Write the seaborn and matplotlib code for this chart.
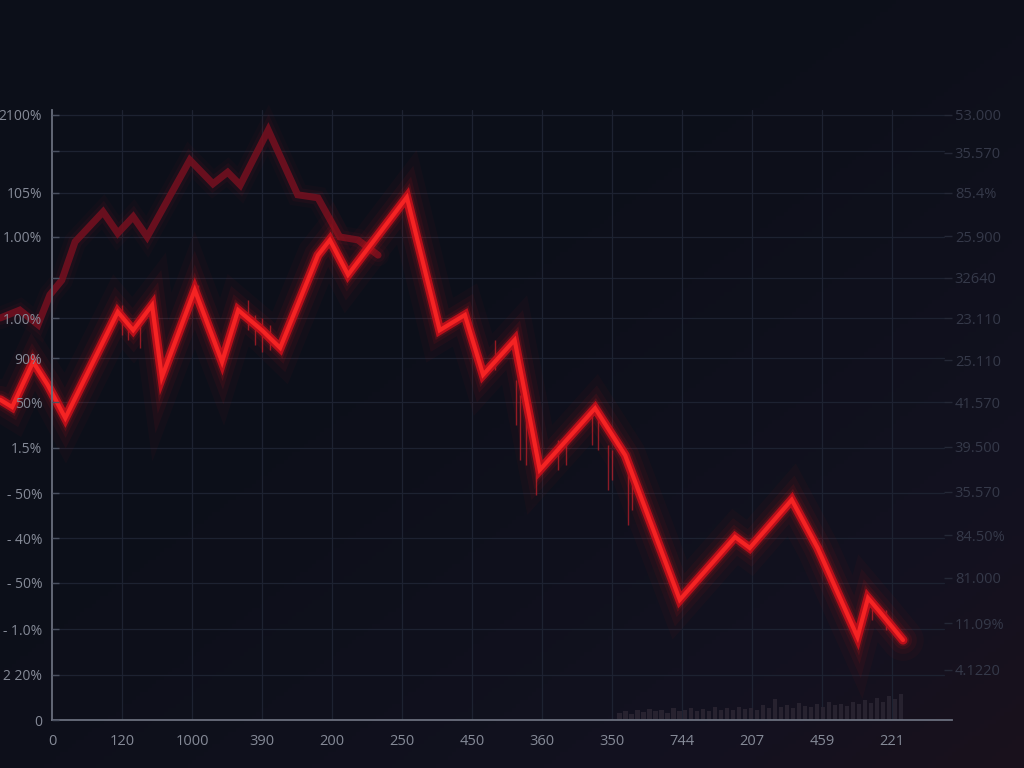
import numpy as np
import pandas as pd
import matplotlib
matplotlib.use("Agg")
import matplotlib.pyplot as plt
from matplotlib.colors import LinearSegmentedColormap
import seaborn as sns

# ---------------- data ----------------
x_labels = ["0", "120", "1000", "390", "200", "250", "450", "360", "350", "744", "207", "459", "221"]

left_tick_vals = [0, 7.4, 14.9, 22.5, 29.8, 37.2, 44.6, 52.1, 59.3, 65.9, 72.5, 79.2, 86.4, 93.3, 99.2]
left_tick_labels = ["0", "2 20%", "- 1.0%", "- 50%", "- 40%", "- 50%", "1.5%", "50%", "90%",
                    "1.00%", "", "1.00%", "105%", "", "2100%"]

right_tick_vals = [99.2, 93.0, 86.4, 79.3, 72.5, 65.9, 59.0, 52.1, 44.8, 37.4, 30.3, 23.3, 15.9, 8.2]
right_tick_labels = ["53.000", "35.570", "85.4%", "25.900", "32640", "23.110", "25.110", "41.570",
                     "39.500", "35.570", "84.50%", "81.000", "11.09%", "4.1220"]

# main (bright) series
main_x = [-0.74, -0.57, -0.27, -0.06, 0.19, 0.94, 1.16, 1.43, 1.57, 2.04, 2.43, 2.66, 3.0, 3.26,
          3.80, 3.97, 4.23, 5.07, 5.54, 5.90, 6.16, 6.61, 6.97, 7.76, 8.19, 8.97, 9.76, 9.97,
          10.57, 10.94, 11.51, 11.66, 11.83, 12.16]
main_y = [52.5, 51.3, 58.7, 54.9, 49.5, 66.9, 63.9, 68.0, 56.2, 70.5, 58.7, 67.2, 63.9, 61.0,
          76.2, 78.7, 73.0, 85.7, 63.9, 66.4, 56.6, 62.3, 41.0, 51.1, 43.4, 19.7, 30.0, 28.2,
          36.1, 28.2, 13.6, 20.0, 17.7, 13.1]

# faded background series
ghost_x = [-0.74, -0.46, -0.20, -0.03, 0.14, 0.33, 0.73, 0.94, 1.16, 1.36, 1.97, 2.30, 2.51,
           2.69, 3.09, 3.51, 3.80, 4.11, 4.37, 4.66]
ghost_y = [65.9, 67.2, 64.8, 69.7, 72.1, 78.4, 83.3, 79.8, 82.5, 79.2, 91.8, 87.9, 89.8,
           87.7, 96.7, 86.1, 85.6, 79.2, 78.7, 76.2]

# thin wicks
wick_x = [1.0, 1.086, 1.257, 2.086, 2.8, 2.9, 3.0, 3.114, 6.33, 6.63, 6.69, 6.77, 6.91, 7.23,
          7.34, 7.71, 7.8, 7.94, 8.0, 8.23, 8.29, 11.6, 11.71, 11.91]
wick_lo = [63.1, 62.3, 61.0, 68.9, 63.9, 61.5, 60.3, 60.7, 57.4, 48.4, 42.6, 41.8, 36.9, 41.0,
           41.8, 45.1, 44.3, 37.7, 39.3, 32.0, 34.4, 15.6, 16.4, 14.8]
wick_hi = [68.0, 65.9, 65.2, 71.3, 68.9, 66.4, 65.9, 64.8, 62.3, 55.7, 53.3, 49.2, 43.4, 45.9,
           45.1, 51.1, 49.2, 45.1, 44.3, 41.8, 41.0, 20.0, 19.7, 18.0]

# faint volume bars at the bottom
volume = [1.2, 1.5, 1.0, 1.6, 1.3, 1.8, 1.4, 1.7, 1.2, 1.9, 1.5, 1.6, 2.0, 1.4, 1.8, 1.5,
          2.1, 1.7, 1.9, 1.6, 2.2, 1.8, 2.0, 1.7, 2.4, 2.0, 3.4, 2.2, 2.5, 2.0, 2.8, 2.3,
          2.1, 2.6, 2.2, 2.9, 2.4, 2.7, 2.3, 3.0, 2.6, 3.2, 2.8, 3.6, 3.0, 4.0, 3.4, 4.2]

# ---------------- style ----------------
sns.set_theme(style="dark")
plt.rcParams["font.family"] = ["Open Sans", "DejaVu Sans"]

BG = "#0d101a"
fig = plt.figure(figsize=(10.24, 7.68), dpi=100, facecolor=BG)

# background vignette
bg_ax = fig.add_axes([0, 0, 1, 1], zorder=-10)
gx, gy = np.meshgrid(np.linspace(0, 1, 256), np.linspace(0, 1, 192))
grad = np.clip(0.6 * gx + 0.6 * gy - 0.35, 0, 1) ** 1.5
cmap = LinearSegmentedColormap.from_list("bgv", ["#0c0f19", "#131220", "#1f1119"])
bg_ax.imshow(grad, cmap=cmap, aspect="auto", extent=[0, 1, 0, 1], origin="upper", vmin=0, vmax=1)
bg_ax.axis("off")

ax = fig.add_axes([52 / 1024, 48 / 768, 900 / 1024, 610 / 768])
ax.set_facecolor("none")
ax.set_xlim(0, 12.86)
ax.set_ylim(0, 100)

grid_c = "#1d2231"
for xv in range(1, 13):
    ax.axvline(xv, color=grid_c, lw=0.9, zorder=0)
for yv in left_tick_vals[1:]:
    ax.plot([0, 12.75], [yv, yv], color=grid_c, lw=0.9, zorder=0)

# volume bars
vol_pos = [8.11 + i * 0.0855 for i in range(len(volume))]
ax.bar(vol_pos, volume, width=0.06, color="#2a2431", edgecolor="none", linewidth=0,
       alpha=0.9, zorder=1)

# ghost line with glow
gdf = pd.DataFrame({"x": ghost_x, "y": ghost_y})
for lw, a in [(16, 0.04), (10, 0.07)]:
    ax.plot(ghost_x, ghost_y, color="#b0142a", lw=lw, alpha=a, solid_joinstyle="miter",
            clip_on=False, zorder=2)
sns.lineplot(data=gdf, x="x", y="y", ax=ax, color="#76101f", lw=5, alpha=0.85,
             sort=False, zorder=3)
ax.lines[-1].set_clip_on(False)
ax.lines[-1].set_solid_joinstyle("miter")

# wicks
ax.vlines(wick_x, wick_lo, wick_hi, color="#c0202c", lw=1.0, alpha=0.7, zorder=3)

# main line with glow
mdf = pd.DataFrame({"x": main_x, "y": main_y})
for lw, a in [(30, 0.03), (20, 0.05), (13, 0.08), (9, 0.14)]:
    ax.plot(main_x, main_y, color="#ff1a1a", lw=lw, alpha=a, solid_joinstyle="miter",
            clip_on=False, zorder=4)
sns.lineplot(data=mdf, x="x", y="y", ax=ax, color="#b80f1a", lw=6.5, sort=False, zorder=5)
ax.lines[-1].set_clip_on(False)
ax.lines[-1].set_solid_joinstyle("miter")
ax.plot(main_x, main_y, color="#f52323", lw=3, solid_joinstyle="miter", clip_on=False, zorder=6)

# axes decoration
ax.set_xlabel("")
ax.set_ylabel("")
ax.set_xticks(range(13))
ax.set_xticklabels(x_labels)
ax.set_yticks(left_tick_vals)
ax.set_yticklabels(left_tick_labels)
ax.tick_params(axis="x", colors="#6f7482", labelcolor="#858a97", labelsize=10.5,
               length=4, width=1, direction="inout", pad=8)
ax.tick_params(axis="y", colors="#4a5060", labelcolor="#858a97", labelsize=10,
               length=5, width=1, direction="in", pad=7)
ax.yaxis.set_zorder(10)
ax.grid(False)
for side in ["top", "right"]:
    ax.spines[side].set_visible(False)
for side in ["left", "bottom"]:
    ax.spines[side].set_color("#6a6f7d")
    ax.spines[side].set_linewidth(1.3)
    ax.spines[side].set_zorder(10)

ax2 = ax.twinx()
ax2.set_ylim(0, 100)
ax2.set_yticks(right_tick_vals)
ax2.set_yticklabels(right_tick_labels)
ax2.tick_params(axis="y", colors="#242836", labelcolor="#353949", labelsize=10.5,
                length=6, width=1, direction="in", pad=2)
ax2.grid(False)
for s in ax2.spines.values():
    s.set_visible(False)
ax2.set_facecolor("none")

fig.savefig("out.png", dpi=100, facecolor=BG)
